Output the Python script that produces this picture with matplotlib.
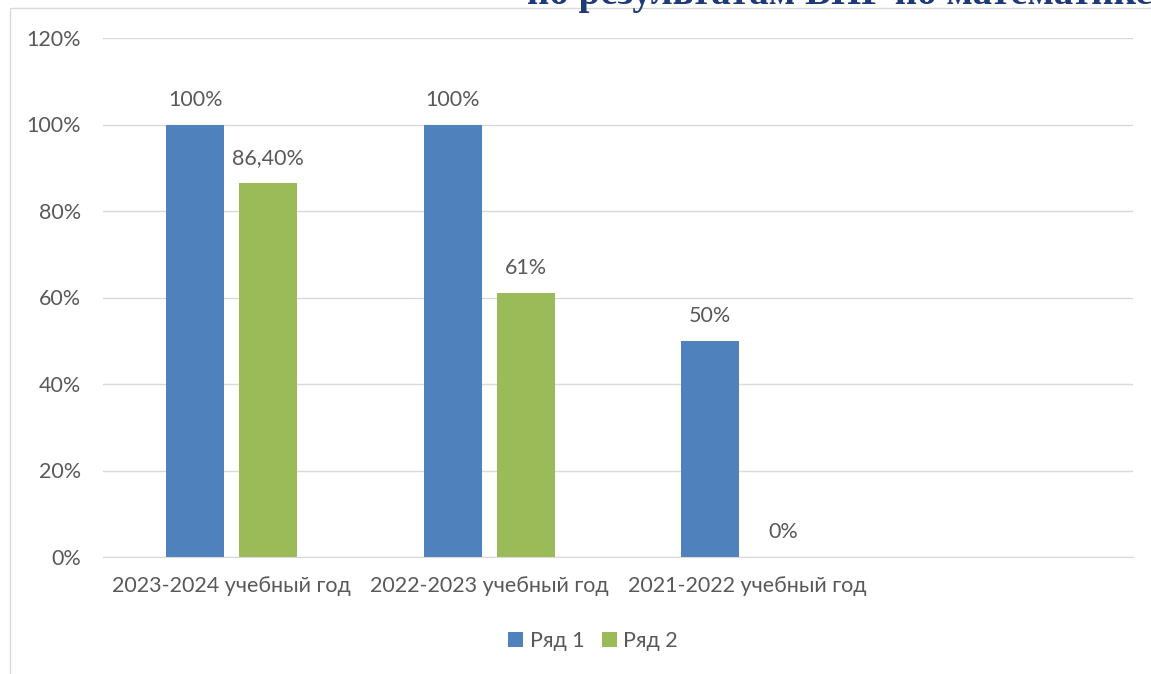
import numpy as np
import matplotlib.pyplot as plt
from matplotlib.patches import Rectangle

plt.rcParams["font.family"] = ["Lato", "DejaVu Sans"]

#------------------------------Data-------------------------------------
categories = ["2023-2024 учебный год", "2022-2023 учебный год", "2021-2022 учебный год", ""]
series1 = [1.00, 1.00, 0.50, None]
series2 = [0.864, 0.61, 0.0, None]
labels1 = ["100%", "100%", "50%", ""]
labels2 = ["86,40%", "61%", "0%", ""]
series_names = ["Ряд 1", "Ряд 2"]
yticks = [0, 0.2, 0.4, 0.6, 0.8, 1.0, 1.2]
ytick_labels = ["0%", "20%", "40%", "60%", "80%", "100%", "120%"]
title = "по результатам ВПР по математике"
#-----------------------------------------------------------------------

W, H = 1151, 674
fig = plt.figure(figsize=(W / 100, H / 100), dpi=100)
ax = fig.add_axes([103 / W, 1 - 557 / H, (1133 - 103) / W, (557 - 38) / H])

blue = "#4F81BD"
green = "#9BBB59"
txt = "#595959"
fs = 15.5

x = np.arange(len(categories))
bw = 0.225
off = 0.1415

v1 = [v if v is not None else 0 for v in series1]
v2 = [v if v is not None else 0 for v in series2]
ax.bar(x - off, v1, bw, color=blue, label=series_names[0], zorder=3)
ax.bar(x + off, v2, bw, color=green, label=series_names[1], zorder=3)

for i in range(len(categories)):
    if labels1[i]:
        ax.annotate(labels1[i], (x[i] - off, v1[i]), xytext=(0, 15), textcoords="offset pixels",
                    ha="center", va="bottom", fontsize=fs, color=txt)
    if labels2[i]:
        ax.annotate(labels2[i], (x[i] + off, v2[i]), xytext=(0, 15), textcoords="offset pixels",
                    ha="center", va="bottom", fontsize=fs, color=txt)

ax.set_xlim(-0.5, len(categories) - 0.5)
ax.set_ylim(0, 1.2)
ax.set_yticks(yticks)
ax.set_yticklabels(ytick_labels)
ax.set_xticks(x)
ax.set_xticklabels(categories)
ax.tick_params(axis="both", length=0, labelsize=fs, labelcolor=txt)
ax.tick_params(axis="x", pad=14)
ax.tick_params(axis="y", pad=16)
ax.grid(axis="y", color="#D9D9D9", linewidth=1, zorder=0)
for s in ["top", "right", "left"]:
    ax.spines[s].set_visible(False)
ax.spines["bottom"].set_color("#D9D9D9")
ax.spines["bottom"].set_zorder(4)

leg = fig.legend(loc="center", bbox_to_anchor=(593 / W, 1 - 641 / H), ncol=2, frameon=False,
                 fontsize=fs, handlelength=0.7, handleheight=0.7, columnspacing=0.8, handletextpad=0.3)
for t in leg.get_texts():
    t.set_color(txt)

# chart frame (cut off at right and bottom)
fig.patches.append(Rectangle((10 / W, -0.1), 1.2, 1 - 8 / H + 0.1, transform=fig.transFigure,
                             fill=False, edgecolor="#D9D9D9", linewidth=1))

# title cropped at the top
fig.text(527 / W, 1 - 4 / H, title, ha="left", va="baseline", fontsize=28, fontweight="bold",
         family="Liberation Serif", color="#1F3A78")

fig.savefig("out.png", dpi=100)
